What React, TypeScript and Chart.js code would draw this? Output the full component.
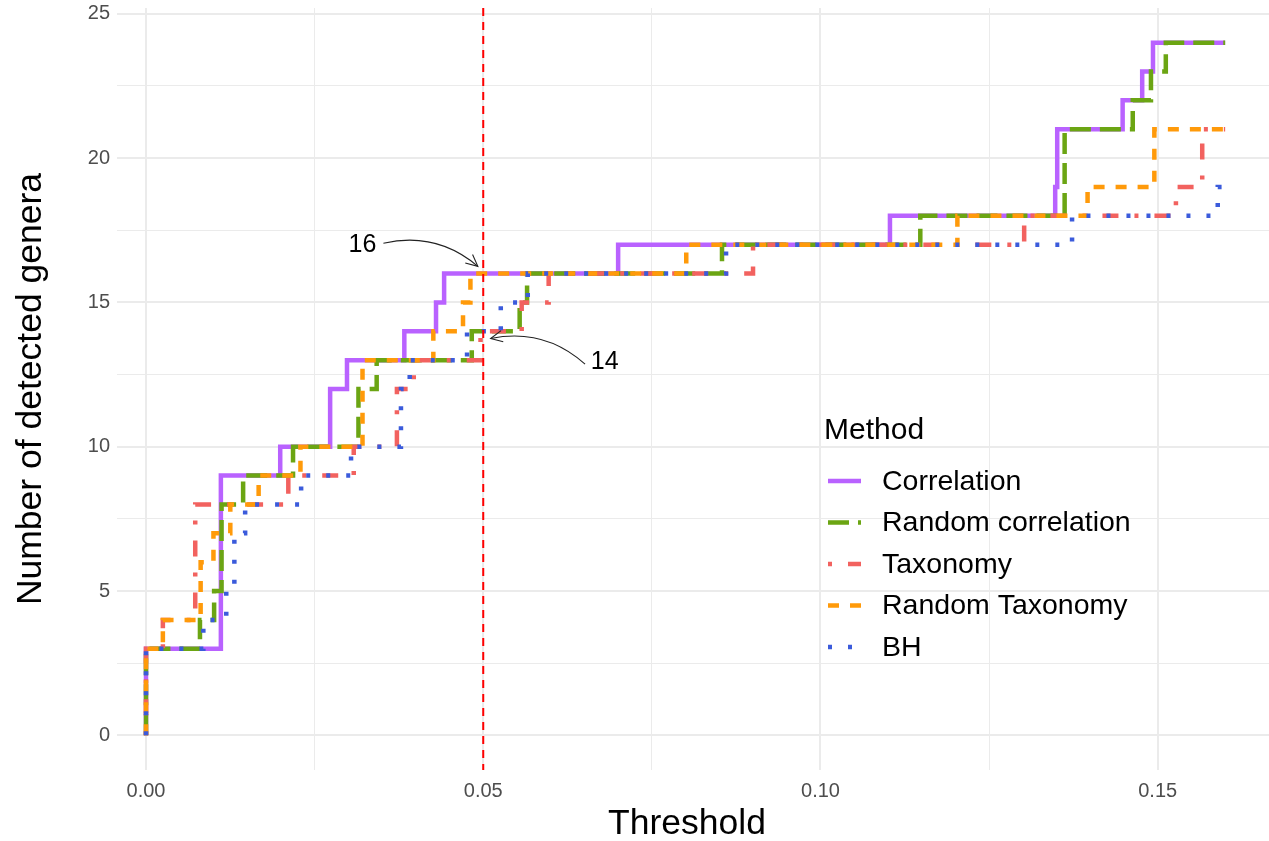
import React, { useEffect, useRef } from 'react';
import { Chart, registerables } from 'chart.js';

Chart.register(...registerables);

const FONT = '"Liberation Sans", Arial, Helvetica, sans-serif';

// Legend / series metadata
const methods = ['Correlation', 'Random correlation', 'Taxonomy', 'Random Taxonomy', 'BH'];
const colors = ['#B962FF', '#6BA513', '#F2625F', '#FF9A0A', '#3B5BDB'];
const dashes: number[][] = [[], [21, 9], [4, 16, 16, 16], [11, 11], [4, 16]];

// Step functions: threshold at which the count changes and the new count
const corrX = [0, 0, 0.0111, 0.0199, 0.0273, 0.0298, 0.0383, 0.043, 0.0442, 0.07, 0.1103, 0.1348, 0.1351, 0.1448, 0.1477, 0.1493, 0.16];
const corrY = [0, 3, 9, 10, 12, 13, 14, 15, 16, 17, 18, 19, 21, 22, 23, 24, 24];

const randCorrX = [0, 0, 0.008, 0.0101, 0.0112, 0.0144, 0.0218, 0.0315, 0.0342, 0.0483, 0.0554, 0.0565, 0.0854, 0.1148, 0.1362, 0.1463, 0.149, 0.1512, 0.16];
const randCorrY = [0, 3, 4, 5, 8, 9, 10, 12, 13, 14, 15, 16, 17, 18, 21, 22, 23, 24, 24];

const taxX = [0, 0, 0.0025, 0.0073, 0.0211, 0.0308, 0.0372, 0.0397, 0.0496, 0.0557, 0.0597, 0.09, 0.1302, 0.1527, 0.1566, 0.16];
const taxY = [0, 3, 4, 8, 9, 10, 12, 13, 14, 15, 16, 17, 18, 19, 21, 21];

const randTaxX = [0, 0, 0.0025, 0.0081, 0.01, 0.0125, 0.0167, 0.0229, 0.0321, 0.0426, 0.047, 0.0481, 0.0801, 0.1203, 0.1396, 0.1495, 0.16];
const randTaxY = [0, 3, 4, 6, 7, 8, 9, 10, 13, 14, 15, 16, 17, 18, 19, 21, 21];

const bhX = [0, 0, 0.0085, 0.0119, 0.0131, 0.0147, 0.023, 0.0304, 0.0378, 0.0391, 0.0476, 0.0526, 0.0566, 0.086, 0.1373, 0.1589, 0.16];
const bhY = [0, 3, 4, 5, 7, 8, 9, 10, 12, 13, 14, 15, 16, 17, 18, 19, 19];

const seriesX = [corrX, randCorrX, taxX, randTaxX, bhX];
const seriesY = [corrY, randCorrY, taxY, randTaxY, bhY];

// Axis ticks (major every 0.05 / 5, minor halfway)
const xTicks = [0, 0.025, 0.05, 0.075, 0.1, 0.125, 0.15];
const xLabeled = [0, 0.05, 0.1, 0.15];
const yTicks = [0, 2.5, 5, 7.5, 10, 12.5, 15, 17.5, 20, 22.5, 25];
const yLabeled = [0, 5, 10, 15, 20, 25];

const xTitle = 'Threshold';
const yTitle = 'Number of detected genera';

const cutoff = 0.05;

// Annotations: label text, label position, arrow start and end (data units)
const annotations = [
  { text: '16', lx: 0.0321, ly: 17.0, sx: 0.0352, sy: 17.05, ex: 0.0492, ey: 16.25, bend: -1 },
  { text: '14', lx: 0.068, ly: 12.93, sx: 0.0651, sy: 12.86, ex: 0.0511, ey: 13.75, bend: 1 },
];

const isIn = (v: number, arr: number[]) => arr.some((a) => Math.abs(a - v) < 1e-9);

function drawArrowHead(ctx: CanvasRenderingContext2D, x: number, y: number, ang: number) {
  const len = 13;
  const spread = Math.PI / 7;
  ctx.beginPath();
  ctx.moveTo(x - len * Math.cos(ang - spread), y - len * Math.sin(ang - spread));
  ctx.lineTo(x, y);
  ctx.lineTo(x - len * Math.cos(ang + spread), y - len * Math.sin(ang + spread));
  ctx.stroke();
}

const overlayPlugin = {
  id: 'overlay',
  afterDatasetsDraw(chart: any) {
    const { ctx, scales, chartArea } = chart;
    const xs = scales.x;
    const ys = scales.y;
    ctx.save();
    ctx.strokeStyle = '#FF0000';
    ctx.lineWidth = 2;
    ctx.setLineDash([8, 6]);
    const cx = xs.getPixelForValue(cutoff);
    ctx.beginPath();
    ctx.moveTo(cx, chartArea.top);
    ctx.lineTo(cx, chartArea.bottom);
    ctx.stroke();
    ctx.restore();

    ctx.save();
    ctx.fillStyle = '#000';
    ctx.strokeStyle = '#222';
    ctx.lineWidth = 1.1;
    ctx.font = `25px ${FONT}`;
    ctx.textAlign = 'center';
    ctx.textBaseline = 'middle';
    annotations.forEach((a) => {
      ctx.fillText(a.text, xs.getPixelForValue(a.lx), ys.getPixelForValue(a.ly));
      const sx = xs.getPixelForValue(a.sx);
      const sy = ys.getPixelForValue(a.sy);
      const ex = xs.getPixelForValue(a.ex);
      const ey = ys.getPixelForValue(a.ey);
      const mx = (sx + ex) / 2;
      const my = (sy + ey) / 2;
      const dx = ex - sx;
      const dy = ey - sy;
      const L = Math.hypot(dx, dy);
      const nx = -dy / L;
      const ny = dx / L;
      const k = 0.25 * L * a.bend;
      const qx = mx + nx * k;
      const qy = my + ny * k;
      ctx.beginPath();
      ctx.moveTo(sx, sy);
      ctx.quadraticCurveTo(qx, qy, ex, ey);
      ctx.stroke();
      drawArrowHead(ctx, ex, ey, Math.atan2(ey - qy, ex - qx));
    });
    ctx.restore();
  },
  afterDraw(chart: any) {
    const { ctx } = chart;
    ctx.save();
    ctx.fillStyle = '#000';
    ctx.textBaseline = 'middle';
    ctx.textAlign = 'center';
    ctx.font = `35.5px ${FONT}`;
    ctx.fillText(xTitle, 687, 824);
    ctx.textAlign = 'left';
    ctx.font = `30px ${FONT}`;
    ctx.fillText('Method', 824, 431);
    ctx.font = `28.5px ${FONT}`;
    methods.forEach((m, i) => {
      const y = 481 + i * 41.5;
      ctx.save();
      ctx.strokeStyle = colors[i];
      ctx.lineWidth = 4.5;
      ctx.setLineDash(dashes[i]);
      ctx.beginPath();
      ctx.moveTo(828, y);
      ctx.lineTo(861, y);
      ctx.stroke();
      ctx.restore();
      ctx.fillText(m, 882, y + 1);
    });
    ctx.restore();
  },
};

export default function App() {
  const ref = useRef<HTMLCanvasElement | null>(null);
  useEffect(() => {
    const canvas = ref.current;
    if (!canvas) return;
    const datasets = methods.map((m, i) => ({
      label: m,
      data: seriesX[i].map((x, j) => ({ x, y: seriesY[i][j] })),
      borderColor: colors[i],
      backgroundColor: colors[i],
      borderWidth: 4.5,
      borderDash: dashes[i],
      borderCapStyle: 'butt',
      borderJoinStyle: 'miter',
      stepped: 'before',
      pointRadius: 0,
      fill: false,
      order: 5 - i,
    }));
    const chart = new Chart(canvas, {
      type: 'line',
      data: { datasets } as any,
      options: {
        animation: false,
        responsive: false,
        maintainAspectRatio: false,
        devicePixelRatio: 1,
        layout: { padding: { top: 8, left: 0, right: 0, bottom: 0 } },
        plugins: { legend: { display: false }, tooltip: { enabled: false } },
        scales: {
          x: {
            type: 'linear',
            min: -0.0043,
            max: 0.1665,
            afterBuildTicks: (s: any) => {
              s.ticks = xTicks.map((v) => ({ value: v }));
            },
            afterFit: (s: any) => {
              s.height = 71;
              s.paddingLeft = 0;
              s.paddingRight = 0;
            },
            border: { display: false },
            grid: {
              color: '#EBEBEB',
              lineWidth: (c: any) => (c.tick && isIn(c.tick.value, xLabeled) ? 2 : 1),
              drawTicks: false,
            },
            ticks: {
              autoSkip: false,
              maxRotation: 0,
              padding: 9,
              color: '#4D4D4D',
              font: { family: FONT, size: 20 },
              callback: (v: any) => (isIn(Number(v), xLabeled) ? Number(v).toFixed(2) : ''),
            },
            title: { display: false },
          },
          y: {
            type: 'linear',
            min: -1.2,
            max: 25.2,
            afterBuildTicks: (s: any) => {
              s.ticks = yTicks.map((v) => ({ value: v }));
            },
            afterFit: (s: any) => {
              s.width = 117;
              s.paddingTop = 0;
              s.paddingBottom = 0;
            },
            border: { display: false },
            grid: {
              color: '#EBEBEB',
              lineWidth: (c: any) => (c.tick && isIn(c.tick.value, yLabeled) ? 2 : 1),
              drawTicks: false,
            },
            ticks: {
              autoSkip: false,
              padding: 7,
              color: '#4D4D4D',
              font: { family: FONT, size: 20 },
              callback: (v: any) => (isIn(Number(v), yLabeled) ? String(v) : ''),
            },
            title: {
              display: true,
              text: yTitle,
              color: '#000',
              font: { family: FONT, size: 35.5, lineHeight: 1 },
              padding: { top: 13, bottom: 0 },
            },
          },
        },
      },
      plugins: [overlayPlugin],
    } as any);
    return () => chart.destroy();
  }, []);
  return (
    <div style={{ position: 'absolute', left: 0, top: 0, width: 1269, height: 841, overflow: 'hidden', background: '#fff' }}>
      <canvas ref={ref} width={1269} height={841} style={{ display: 'block' }} />
    </div>
  );
}
